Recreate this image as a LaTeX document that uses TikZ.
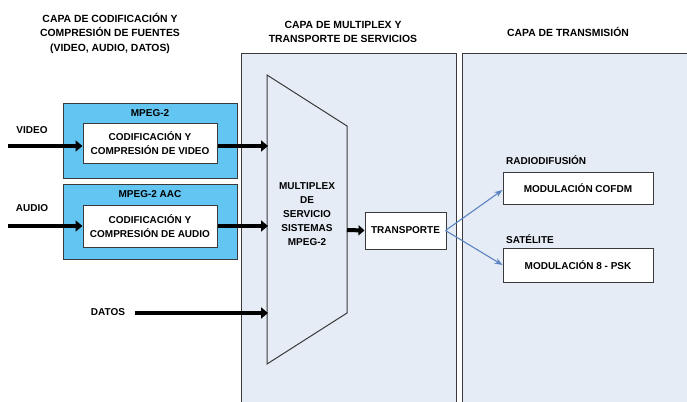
\documentclass[tikz,border=0pt]{standalone}
\usepackage{fontspec}
\setmainfont{Liberation Sans}
\usetikzlibrary{arrows.meta}
\definecolor{panelfill}{HTML}{E5ECF6}
\definecolor{blueboxfill}{HTML}{62C5F2}
\definecolor{arrowblue}{HTML}{5B84C0}
\definecolor{edge}{HTML}{3A3A3A}
\begin{document}
\begin{tikzpicture}[x=1pt,y=-1pt,
  font=\bfseries\fontsize{10}{14}\selectfont,
  panel/.style={draw=edge,line width=1.1pt,fill=panelfill,anchor=north west,inner sep=0pt},
  bluebox/.style={draw=edge,line width=1pt,fill=blueboxfill,anchor=north west,inner sep=0pt,minimum width=174pt,minimum height=75pt},
  whitebox/.style={draw=edge,line width=1pt,fill=white,align=center,inner sep=0pt},
  lbl/.style={align=center,inner sep=0pt},
  title/.style={lbl,font=\bfseries\fontsize{10.4}{14.5}\selectfont},
  thick arrow/.style={line width=4pt,-{Triangle[length=7pt,width=11pt]}},
  thin arrow/.style={draw=arrowblue,line width=1.1pt,-{Stealth[length=8pt,width=6pt]}},
  muxshape/.style={draw=edge,line width=1pt,fill=panelfill}]
\useasboundingbox (0,0) rectangle (687,401);
\fill[white] (0,0) rectangle (687,401);
% titles
\node[title] (t1) at (110,33) {CAPA DE CODIFICACIÓN Y\\COMPRESIÓN DE FUENTES\\(VIDEO, AUDIO, DATOS)};
\node[title] (t2) at (343,32) {CAPA DE MULTIPLEX Y\\TRANSPORTE DE SERVICIOS};
\node[title] (t3) at (568,32) {CAPA DE TRANSMISIÓN};
% panels
\node[panel,minimum width=215pt,minimum height=360pt] (pmid) at (240.5,53) {};
\node[panel,minimum width=230pt,minimum height=360pt] (pright) at (462,53) {};
% source coding boxes
\node[bluebox] (bv) at (63,103) {};
\node[lbl] (bvl) at (150,113) {MPEG-2};
\node[whitebox,minimum width=134pt,minimum height=40pt] (vcod) at (150,143) {CODIFICACIÓN Y\\COMPRESIÓN DE VIDEO};
\node[bluebox] (ba) at (63,184) {};
\node[lbl] (bal) at (150,194) {MPEG-2 AAC};
\node[whitebox,minimum width=134pt,minimum height=42pt] (acod) at (150,226) {CODIFICACIÓN Y\\COMPRESIÓN DE AUDIO};
% inputs
\node[lbl] (lv) at (32,130) {VIDEO};
\node[lbl] (la) at (32,208) {AUDIO};
\node[lbl] (ld) at (108,312) {DATOS};
\coordinate (vin) at (8,146);
\coordinate (ain) at (8,226);
\coordinate (din) at (135,313);
% multiplexer
\draw[muxshape] (267,75) coordinate (mtl) -- (347,126) coordinate (mtr) -- (347,313) coordinate (mbr) -- (267,364) coordinate (mbl) -- cycle;
\node[lbl] (mux) at (307,214) {MULTIPLEX\\DE\\SERVICIO\\SISTEMAS\\MPEG-2};
\coordinate (mv) at (268,146);
\coordinate (ma) at (268,226);
\coordinate (md) at (268,313);
\coordinate (mout) at (347,230);
% transport
\node[whitebox,minimum width=81pt,minimum height=37pt] (tr) at (405.5,230.5) {TRANSPORTE};
% transmission
\node[lbl,anchor=west] (lr) at (506,160) {RADIODIFUSIÓN};
\node[whitebox,minimum width=150pt,minimum height=32pt] (cofdm) at (578,188) {MODULACIÓN COFDM};
\node[lbl,anchor=west] (ls) at (506,239) {SATÉLITE};
\node[whitebox,minimum width=150pt,minimum height=34pt] (psk) at (578,265) {MODULACIÓN 8 - PSK};
% connectors
\draw[thick arrow] (vin) -- ([yshift=-3pt]vcod.west);
\draw[thick arrow] (ain) -- (acod.west);
\draw[thick arrow] ([yshift=-3pt]vcod.east) -- (mv);
\draw[thick arrow] (acod.east) -- (ma);
\draw[thick arrow] (din) -- (md);
\draw[line width=4pt,-{Triangle[length=6pt,width=10pt]}] (mout) -- (tr.west);
\draw[thin arrow] ([xshift=-1pt]tr.east) -- ([yshift=-2pt]cofdm.west);
\draw[thin arrow] ([xshift=-1pt]tr.east) -- (psk.west);
\end{tikzpicture}
\end{document}
